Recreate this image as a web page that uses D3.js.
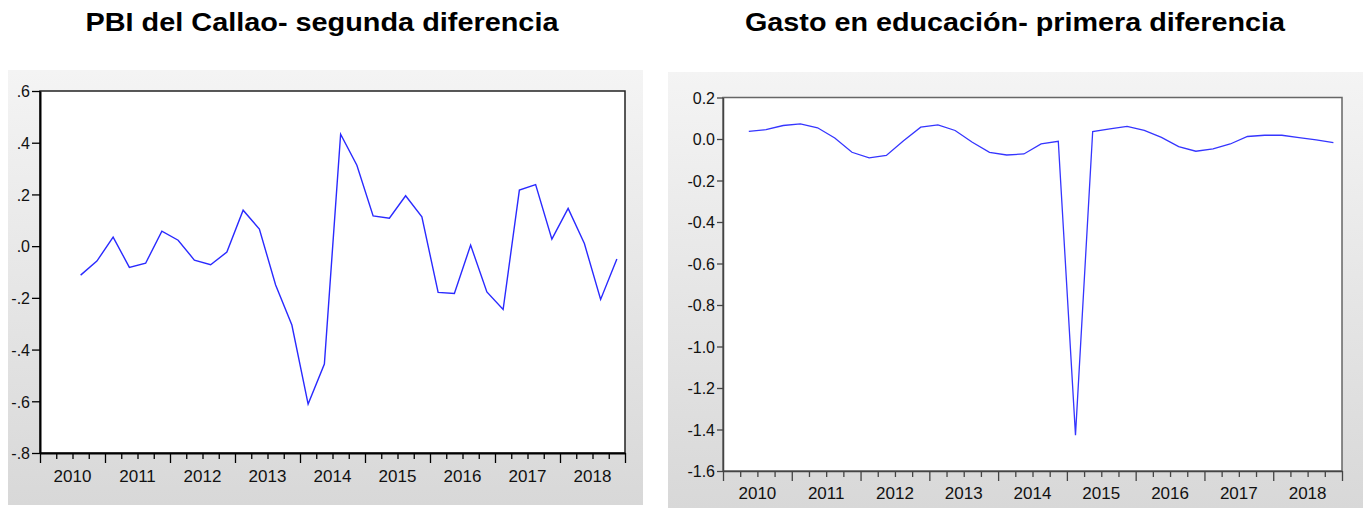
<!DOCTYPE html>
<html>
<head>
<meta charset="utf-8">
<script src="https://cdn.jsdelivr.net/npm/d3@7"></script>
<style>
  html, body { margin: 0; padding: 0; background: #ffffff; }
  svg { display: block; font-family: "Liberation Sans", Arial, sans-serif; }
</style>
</head>
<body>
<svg id="chart" width="1363" height="508"></svg>
<script>
// ---------------- DATA ----------------
const years = ["2010","2011","2012","2013","2014","2015","2016","2017","2018"];
const quarters = years.flatMap(y => ["Q1","Q2","Q3","Q4"].map(q => y + q));

const titleLeft = "PBI del Callao- segunda diferencia";
const titleRight = "Gasto en educación- primera diferencia";

// Second difference of PBI del Callao, 2010Q3 .. 2018Q4
const pbiStart = "2010Q3";
const pbiValues = [
  -0.112, -0.058, 0.035, -0.082, -0.066, 0.058, 0.023, -0.054, -0.072, -0.023,
  0.139, 0.066, -0.150, -0.305, -0.611, -0.456, 0.433, 0.313, 0.117, 0.108,
  0.195, 0.113, -0.179, -0.183, 0.004, -0.177, -0.245, 0.217, 0.238, 0.027,
  0.146, 0.010, -0.206, -0.050
];

// First difference of Gasto en educación, 2010Q2 .. 2018Q4
const gastoStart = "2010Q2";
const gastoValues = [
  0.037, 0.045, 0.065, 0.073, 0.054, 0.005, -0.064, -0.091, -0.079, -0.008,
  0.057, 0.068, 0.041, -0.016, -0.064, -0.077, -0.072, -0.024, -0.011, -1.427,
  0.036, 0.049, 0.061, 0.041, 0.008, -0.037, -0.059, -0.048, -0.024, 0.012,
  0.018, 0.018, 0.007, -0.004, -0.017
];

const leftYTicks = [0.6, 0.4, 0.2, 0.0, -0.2, -0.4, -0.6, -0.8];
const rightYTicks = [0.2, 0.0, -0.2, -0.4, -0.6, -0.8, -1.0, -1.2, -1.4, -1.6];

// ---------------- DRAW ----------------
const svg = d3.select("#chart");
const defs = svg.append("defs");
const grad = defs.append("linearGradient").attr("id", "panelGrad")
  .attr("x1", 0).attr("y1", 0).attr("x2", 0).attr("y2", 1);
grad.append("stop").attr("offset", "0%").attr("stop-color", "#f4f4f4");
grad.append("stop").attr("offset", "100%").attr("stop-color", "#d8d8d8");

function fmtLeft(v) {
  const s = Math.abs(v) < 1e-9 ? "0.0" : v.toFixed(1);
  return s.replace(/^(-?)0\./, "$1.");
}
function fmtRight(v) {
  return (Math.abs(v) < 1e-9 ? 0 : v).toFixed(1);
}

function drawChart(cfg) {
  const g = svg.append("g");
  // panel background
  g.append("rect")
    .attr("x", cfg.panel.x).attr("y", cfg.panel.y)
    .attr("width", cfg.panel.w).attr("height", cfg.panel.h)
    .attr("fill", "url(#panelGrad)");

  // title
  svg.append("text")
    .attr("x", cfg.titleX).attr("y", 31)
    .attr("text-anchor", "middle")
    .attr("font-weight", "bold")
    .attr("font-size", cfg.titleSize)
    .attr("textLength", cfg.titleLen)
    .attr("lengthAdjust", "spacingAndGlyphs")
    .attr("fill", "#000")
    .text(cfg.title);

  const x = d3.scaleLinear().domain([0, quarters.length]).range([cfg.plot.l, cfg.plot.r]);
  const y = d3.scaleLinear().domain(cfg.yDomain).range([cfg.plot.b, cfg.plot.t]);

  // plot area
  g.append("rect")
    .attr("x", cfg.plot.l).attr("y", cfg.plot.t)
    .attr("width", cfg.plot.r - cfg.plot.l).attr("height", cfg.plot.b - cfg.plot.t)
    .attr("fill", "#ffffff")
    .attr("stroke", cfg.frameColor).attr("stroke-width", cfg.frameWidth);

  // y axis
  const yAxis = d3.axisLeft(y).tickValues(cfg.yTicks).tickFormat(cfg.fmt)
    .tickSize(cfg.yTickLen).tickSizeOuter(0).tickPadding(2);
  const ya = g.append("g").attr("transform", `translate(${cfg.plot.l},0)`).call(yAxis);
  ya.select(".domain").attr("stroke", cfg.axisColor).attr("stroke-width", cfg.axisWidth);
  ya.selectAll(".tick line").attr("stroke", cfg.axisColor).attr("stroke-width", 1.3);
  ya.selectAll(".tick text")
    .attr("font-size", cfg.yFontSize)
    .attr("font-family", "'Liberation Sans', Arial, sans-serif")
    .attr("fill", "#111")
    .attr("dy", "0.36em");

  // x axis ticks (quarterly, longer at year starts)
  const tickVals = d3.range(0, quarters.length + 1);
  const xAxis = d3.axisBottom(x).tickValues(tickVals).tickFormat("")
    .tickSize(6).tickSizeOuter(0);
  const xa = g.append("g").attr("transform", `translate(0,${cfg.plot.b})`).call(xAxis);
  xa.select(".domain").attr("stroke", cfg.axisColor).attr("stroke-width", cfg.axisWidth);
  xa.selectAll(".tick line")
    .attr("stroke", cfg.axisColor).attr("stroke-width", 1.3)
    .attr("y2", d => d % 4 === 0 ? 10 : 6);

  // year labels centred in each year
  g.selectAll(".yearLabel").data(years).join("text")
    .attr("class", "yearLabel")
    .attr("x", (d, i) => x(i * 4 + 2))
    .attr("y", cfg.yearBaseline)
    .attr("text-anchor", "middle")
    .attr("font-size", cfg.xFontSize)
    .attr("fill", "#111")
    .text(d => d);

  // series line, plotted at mid-quarter
  const start = quarters.indexOf(cfg.start);
  const pts = cfg.values.map((v, i) => [start + i + 0.5, v]);
  const line = d3.line().x(d => x(d[0])).y(d => y(d[1]));
  g.append("path").datum(pts)
    .attr("d", line)
    .attr("fill", "none")
    .attr("stroke", cfg.lineColor)
    .attr("stroke-width", cfg.lineWidth)
    .attr("stroke-linejoin", "miter");
}

drawChart({
  title: titleLeft, titleX: 322, titleSize: 26, titleLen: 473,
  panel: { x: 8, y: 70, w: 635, h: 435 },
  plot: { l: 40, r: 625, t: 91, b: 453 },
  yDomain: [-0.8, 0.6], yTicks: leftYTicks, fmt: fmtLeft,
  yTickLen: 8, yFontSize: 16, xFontSize: 17, yearBaseline: 482,
  frameColor: "#222", frameWidth: 1.5, axisColor: "#000", axisWidth: 2,
  start: pbiStart, values: pbiValues, lineColor: "#2a2aff", lineWidth: 1.4
});

drawChart({
  title: titleRight, titleX: 1015, titleSize: 26, titleLen: 540,
  panel: { x: 668, y: 72, w: 695, h: 436 },
  plot: { l: 723, r: 1342, t: 97.5, b: 471 },
  yDomain: [-1.6, 0.2], yTicks: rightYTicks, fmt: fmtRight,
  yTickLen: 6, yFontSize: 16, xFontSize: 17, yearBaseline: 499,
  frameColor: "#666", frameWidth: 1.5, axisColor: "#444", axisWidth: 1.5,
  start: gastoStart, values: gastoValues, lineColor: "#3535ff", lineWidth: 1.3
});
</script>
</body>
</html>
